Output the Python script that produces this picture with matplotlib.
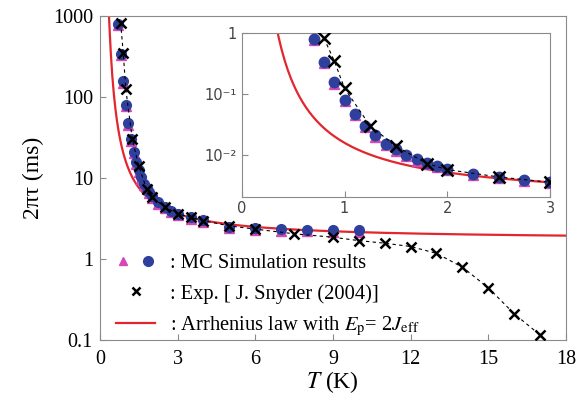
import numpy as np
import matplotlib
matplotlib.use('Agg')
import matplotlib.pyplot as plt
from matplotlib.lines import Line2D
from matplotlib.legend_handler import HandlerTuple

plt.rcParams['font.family'] = ['Liberation Serif', 'DejaVu Serif']
plt.rcParams['mathtext.fontset'] = 'stix'

# MC simulation (T in K, 2*pi*tau in ms)
T_mc = [0.7, 0.8, 0.9, 1.0, 1.1, 1.2, 1.3, 1.4, 1.5, 1.6, 1.7, 1.8, 1.9, 2.0,
        2.25, 2.5, 2.75, 3.0, 3.5, 4.0, 5.0, 6.0, 7.0, 8.0, 9.0, 10.0]
tau_mc = [800, 340, 155, 80, 47, 30, 21, 15.5, 12.4, 10.2, 8.5, 7.5, 6.7, 5.9,
          5.0, 4.4, 3.9, 3.6, 3.25, 3.0, 2.5, 2.39, 2.33, 2.28, 2.24, 2.24]

# experiment, J. Snyder (2004)
T_exp = [0.8, 0.9, 1.0, 1.25, 1.5, 1.8, 2.0, 2.5, 3.0, 3.5, 4.0, 5.0, 6.0, 7.5,
         9.0, 10.0, 11.0, 12.0, 13.0, 14.0, 15.0, 16.0, 17.0]
tau_exp = [820, 350, 124, 30, 14, 7.3, 5.8, 4.4, 3.6, 3.27, 2.96, 2.55, 2.33, 2.04,
           1.85, 1.68, 1.56, 1.42, 1.17, 0.79, 0.44, 0.21, 0.115]

# Arrhenius law tau = A exp(E/T), A in ms, E in K
A_arr = 1.71
E_arr = 2.23

T_mc = np.array(T_mc); tau_mc = np.array(tau_mc)
T_exp = np.array(T_exp); tau_exp = np.array(tau_exp)
T_line = np.linspace(0.3, 18, 600)
tau_line = A_arr * np.exp(E_arr / T_line)

blue = '#2f3f9c'
pink = '#d448b8'
red = '#e3262d'
grey = '#8a8a8a'

fig = plt.figure(figsize=(5.81, 4.07), dpi=100)
ax = fig.add_axes([0.172, 0.165, 0.802, 0.796])

ax.plot(T_line, tau_line, color=red, lw=1.6, zorder=2)
ax.plot(T_mc, tau_mc * 0.96, ls='none', marker='^', ms=7, color=pink, zorder=3)
ax.plot(T_mc, tau_mc, ls='none', marker='o', ms=7, color=blue, zorder=4)
ax.plot(T_exp, tau_exp, ls=(0, (3, 3)), lw=0.8, color='black', marker='x',
        ms=7, mew=1.8, zorder=5)

ax.set_yscale('log')
ax.set_xlim(0, 18)
ax.set_ylim(0.1, 1000)
ax.set_xticks([0, 3, 6, 9, 12, 15, 18])
ax.set_yticks([0.1, 1, 10, 100, 1000])
ax.set_yticklabels(['0.1', '1', '10', '100', '1000'])
ax.minorticks_off()
ax.tick_params(direction='in', length=4, color=grey, labelsize=14.5)
ax.tick_params(axis='x', pad=7)
ax.tick_params(axis='y', pad=5)
for s in ax.spines.values():
    s.set_color(grey)
ax.set_xlabel('$T$ (K)', fontsize=17, labelpad=0)
ax.set_ylabel('2πτ (ms)', fontsize=17, labelpad=6)

h_mc = (Line2D([], [], ls='none', marker='^', ms=6, color=pink),
        Line2D([], [], ls='none', marker='o', ms=7, color=blue))
h_exp = Line2D([], [], ls='none', marker='x', ms=6, mew=1.8, color='black')
h_arr = Line2D([], [], color=red, lw=1.6)
ax.legend([h_mc, h_exp, h_arr],
          [': MC Simulation results', ': Exp. [ J. Snyder (2004)]',
           r': Arrhenius law with $E_{\mathrm{p}}$= 2$J_{\mathrm{eff}}$'],
          handler_map={tuple: HandlerTuple(ndivide=None, pad=0.5)},
          loc='lower left', bbox_to_anchor=(-0.005, -0.05), frameon=False,
          fontsize=14.8, handlelength=1.9, handletextpad=0.7, labelspacing=0.52)

# inset (seconds)
ins = fig.add_axes([0.416, 0.517, 0.531, 0.402])
m_mc = T_mc <= 3.0
m_exp = T_exp <= 3.0
ins.plot(T_line, tau_line / 1000, color=red, lw=1.6, zorder=2)
ins.plot(T_mc[m_mc], tau_mc[m_mc] / 1000 * 0.96, ls='none', marker='^', ms=7,
         color=pink, zorder=3)
ins.plot(T_mc[m_mc], tau_mc[m_mc] / 1000, ls='none', marker='o', ms=7.5,
         color=blue, zorder=4)
ins.plot(T_exp[m_exp], tau_exp[m_exp] / 1000, ls=(0, (3, 3)), lw=0.8,
         color='black', marker='x', ms=8, mew=1.8, zorder=5)
ins.set_yscale('log')
ins.set_xlim(0, 3)
ins.set_ylim(2.1e-3, 1)
ins.set_xticks([0, 1, 2, 3])
ins.set_xticklabels(['0', '1', '2', '3'], family='DejaVu Sans')
ins.set_yticks([1e-2, 1e-1, 1])
ins.set_yticklabels(['10⁻²', '10⁻¹', '1'], family='DejaVu Sans')
ins.minorticks_off()
ins.tick_params(direction='in', length=4, color=grey, labelsize=10.5,
                labelcolor='#444444')
for s in ins.spines.values():
    s.set_color(grey)

fig.savefig('out.png', dpi=100, facecolor='white')
